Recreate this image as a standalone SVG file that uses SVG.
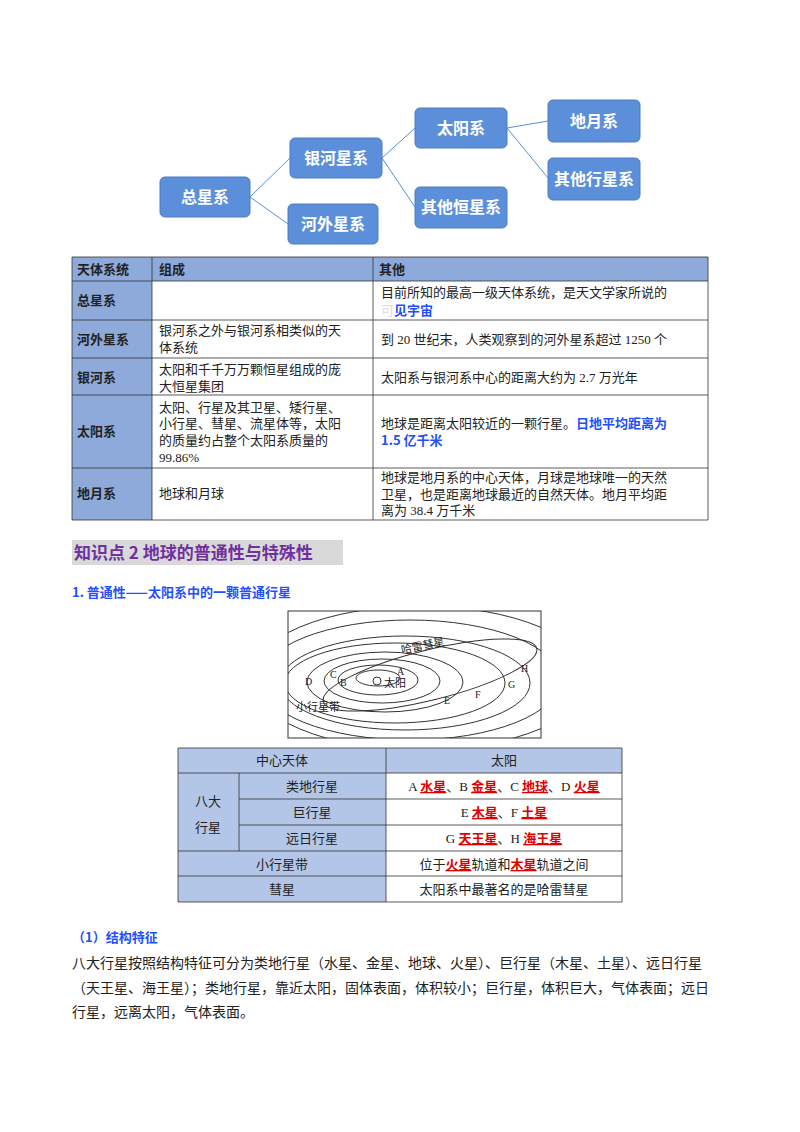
<svg xmlns="http://www.w3.org/2000/svg" width="800" height="1132" viewBox="0 0 800 1132">
<style>
text{font-family:"Liberation Serif","Noto Sans CJK SC",serif;font-size:13px;fill:#222}
.n rect{fill:#5b8fd9;stroke:#4a7cc4;stroke-width:1}
.n text{font-family:"Noto Sans CJK SC",sans-serif;font-size:16px;font-weight:bold;fill:#fff;text-anchor:middle}
.b{font-family:"Noto Sans CJK SC",sans-serif;font-weight:bold}
.blue{fill:#1f4fff;font-family:"Noto Sans CJK SC",sans-serif;font-weight:bold}
.red{fill:#e00000;font-weight:bold;text-decoration:underline;font-family:"Noto Sans CJK SC",sans-serif}
.g line{stroke:#333;stroke-width:0.8}
.c{text-anchor:middle}
.orb{fill:none;stroke:#333;stroke-width:1}
</style>
<defs><clipPath id="box"><rect x="288" y="611" width="253" height="127"/></clipPath></defs>
<g id="connectors" stroke="#5b8fd9" stroke-width="1" fill="none">
<line x1="250" y1="197" x2="290" y2="158"/><line x1="250" y1="197" x2="288" y2="224"/>
<line x1="382" y1="158" x2="415" y2="128"/><line x1="382" y1="158" x2="415" y2="207"/>
<line x1="507" y1="128" x2="548" y2="121"/><line x1="507" y1="128" x2="548" y2="178"/>
</g>
<g id="n1" class="n"><rect x="160" y="177" width="90" height="40" rx="5"/><text x="205" y="203">总星系</text></g>
<g id="n2" class="n"><rect x="290" y="138" width="92" height="40" rx="5"/><text x="336" y="164">银河星系</text></g>
<g id="n3" class="n"><rect x="288" y="204" width="90" height="40" rx="5"/><text x="333" y="230">河外星系</text></g>
<g id="n4" class="n"><rect x="415" y="108" width="92" height="40" rx="5"/><text x="461" y="134">太阳系</text></g>
<g id="n5" class="n"><rect x="415" y="187" width="92" height="41" rx="5"/><text x="461" y="213">其他恒星系</text></g>
<g id="n6" class="n"><rect x="548" y="100" width="92" height="42" rx="5"/><text x="594" y="127">地月系</text></g>
<g id="n7" class="n"><rect x="548" y="158" width="92" height="42" rx="5"/><text x="594" y="185">其他行星系</text></g>

<g id="table1">
<rect x="72" y="257" width="636" height="24" fill="#8eaadb"/>
<rect x="72" y="281" width="80" height="239" fill="#8eaadb"/>
<g class="g" stroke="#333">
<line x1="72" y1="257" x2="708" y2="257"/><line x1="72" y1="281" x2="708" y2="281"/><line x1="72" y1="320" x2="708" y2="320"/><line x1="72" y1="358" x2="708" y2="358"/><line x1="72" y1="395" x2="708" y2="395"/><line x1="72" y1="468" x2="708" y2="468"/><line x1="72" y1="520" x2="708" y2="520"/>
<line x1="72" y1="257" x2="72" y2="520"/><line x1="152" y1="257" x2="152" y2="520"/><line x1="373" y1="257" x2="373" y2="520"/><line x1="708" y1="257" x2="708" y2="520"/>
</g>
<text class="b" x="77" y="274">天体系统</text><text class="b" x="159" y="274">组成</text><text class="b" x="379" y="274">其他</text>
<text class="b" x="77" y="305">总星系</text>
<text x="381" y="297">目前所知的最高一级天体系统，是天文学家所说的</text>
<text x="381" y="315"><tspan fill="#ddd">可</tspan><tspan class="blue">见宇宙</tspan></text>
<text class="b" x="77" y="344">河外星系</text>
<text x="159" y="335">银河系之外与银河系相类似的天</text><text x="159" y="352">体系统</text>
<text x="381" y="344">到 20 世纪末，人类观察到的河外星系超过 1250 个</text>
<text class="b" x="77" y="382">银河系</text>
<text x="159" y="374">太阳和千千万万颗恒星组成的庞</text><text x="159" y="391">大恒星集团</text>
<text x="381" y="382">太阳系与银河系中心的距离大约为 2.7 万光年</text>
<text class="b" x="77" y="436">太阳系</text>
<text x="159" y="412">太阳、行星及其卫星、矮行星、</text><text x="159" y="428">小行星、彗星、流星体等，太阳</text><text x="159" y="445">的质量约占整个太阳系质量的</text><text x="159" y="462">99.86%</text>
<text x="381" y="428">地球是距离太阳较近的一颗行星。<tspan class="blue">日地平均距离为</tspan></text>
<text class="blue" x="381" y="445">1.5 亿千米</text>
<text class="b" x="77" y="498">地月系</text>
<text x="159" y="498">地球和月球</text>
<text x="381" y="482">地球是地月系的中心天体，月球是地球唯一的天然</text><text x="381" y="499">卫星，也是距离地球最近的自然天体。地月平均距</text><text x="381" y="515">离为 38.4 万千米</text>
</g>

<rect x="72" y="540" width="271" height="25" fill="#d9d9d9"/>
<text class="b" x="74" y="559" style="font-size:17px;fill:#7030a0">知识点 2  地球的普通性与特殊性</text>
<text class="b" x="72" y="597" style="font-size:13px;fill:#1f4fff">1. 普通性——太阳系中的一颗普通行星</text>

<g id="solar">
<rect x="288" y="611" width="253" height="127" fill="#fff" stroke="#333"/>
<g clip-path="url(#box)">
<ellipse class="orb" cx="378" cy="678" rx="22" ry="8"/>
<ellipse class="orb" cx="378" cy="680" rx="40" ry="15"/>
<ellipse class="orb" cx="382" cy="681" rx="58" ry="22"/>
<ellipse class="orb" cx="385" cy="682" rx="78" ry="30"/>
<ellipse class="orb" cx="395" cy="683" rx="110" ry="40"/>
<ellipse class="orb" cx="405" cy="683" rx="125" ry="47"/>
<ellipse class="orb" cx="410" cy="680" rx="150" ry="60"/>
<ellipse class="orb" cx="420" cy="678" rx="170" ry="72"/>
<ellipse class="orb" cx="430" cy="675" rx="110" ry="25" transform="rotate(-14 430 675)"/>
</g>
<circle cx="377" cy="681" r="4" fill="none" stroke="#333"/>
<text x="384" y="687" style="font-size:11px">太阳</text>
<text x="397" y="675" style="font-size:10px">A</text><text x="340" y="686" style="font-size:10px">B</text>
<text x="330" y="678" style="font-size:10px">C</text><text x="305" y="685" style="font-size:10px">D</text>
<text x="444" y="704" style="font-size:10px">E</text><text x="475" y="698" style="font-size:10px">F</text>
<text x="508" y="688" style="font-size:10px">G</text><text x="521" y="672" style="font-size:10px">H</text>
<text x="402" y="654" style="font-size:11px" transform="rotate(-12 402 654)">哈雷彗星</text>
<text x="296" y="711" style="font-size:11px">小行星带</text>
</g>

<g id="table2">
<rect x="178" y="748" width="208" height="154" fill="#b4c6e7"/>
<rect x="386" y="748" width="236" height="25" fill="#b4c6e7"/>
<g class="g">
<line x1="178" y1="748" x2="622" y2="748"/><line x1="178" y1="773" x2="622" y2="773"/><line x1="239" y1="799" x2="622" y2="799"/><line x1="239" y1="825" x2="622" y2="825"/><line x1="178" y1="851" x2="622" y2="851"/><line x1="178" y1="876" x2="622" y2="876"/><line x1="178" y1="902" x2="622" y2="902"/>
<line x1="178" y1="748" x2="178" y2="902"/><line x1="239" y1="773" x2="239" y2="851"/><line x1="386" y1="748" x2="386" y2="902"/><line x1="622" y1="748" x2="622" y2="902"/>
</g>
<text class="c" x="282" y="765">中心天体</text><text class="c" x="504" y="765">太阳</text>
<text class="c" x="208" y="806">八大</text><text class="c" x="208" y="832">行星</text>
<text class="c" x="312" y="791">类地行星</text><text class="c" x="312" y="817">巨行星</text><text class="c" x="312" y="843">远日行星</text>
<text class="c" x="282" y="869">小行星带</text><text class="c" x="282" y="894">彗星</text>
<text class="c" x="504" y="791">A <tspan class="red">水星</tspan>、B <tspan class="red">金星</tspan>、C <tspan class="red">地球</tspan>、D <tspan class="red">火星</tspan></text>
<text class="c" x="504" y="817">E <tspan class="red">木星</tspan>、F <tspan class="red">土星</tspan></text>
<text class="c" x="504" y="843">G <tspan class="red">天王星</tspan>、H <tspan class="red">海王星</tspan></text>
<text class="c" x="504" y="869">位于<tspan class="red">火星</tspan>轨道和<tspan class="red">木星</tspan>轨道之间</text>
<text class="c" x="504" y="894">太阳系中最著名的是哈雷彗星</text>
</g>

<text class="b" x="72" y="942" style="fill:#1f4fff">（1）结构特征</text>
<text x="72" y="968" style="font-size:14px">八大行星按照结构特征可分为类地行星（水星、金星、地球、火星）、巨行星（木星、土星）、远日行星</text>
<text x="72" y="993" style="font-size:14px">（天王星、海王星）；类地行星，靠近太阳，固体表面，体积较小；巨行星，体积巨大，气体表面；远日</text>
<text x="72" y="1017" style="font-size:14px">行星，远离太阳，气体表面。</text>
</svg>
